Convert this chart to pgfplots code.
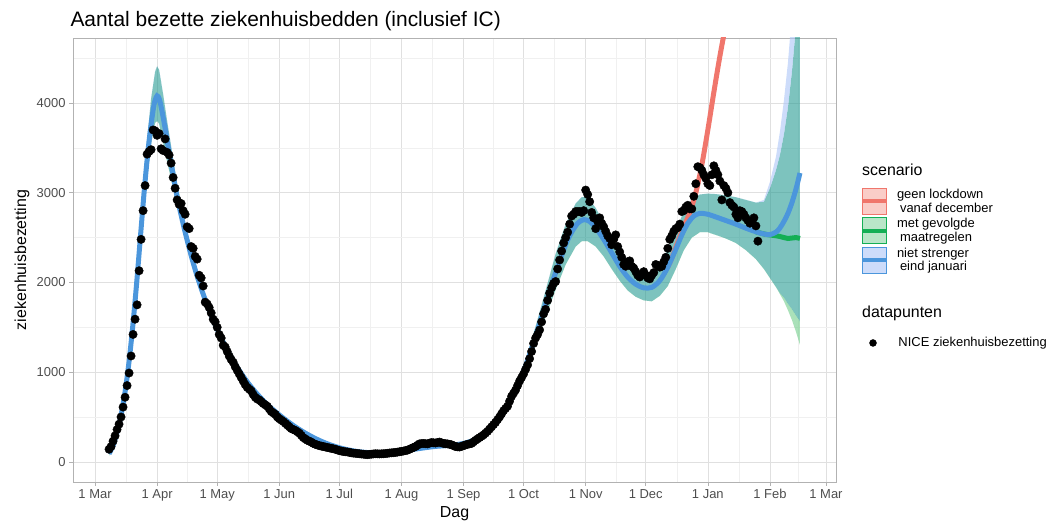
\documentclass[border=0pt]{standalone}
\usepackage{pgfplots}
\pgfplotsset{compat=1.18}
\usepackage{pgfplotstable}
\usepgfplotslibrary{fillbetween}
\usepackage{fontspec}
\setmainfont{Liberation Sans}

\definecolor{blueLine}{RGB}{75,150,220}
\definecolor{greenLine}{RGB}{20,175,85}
\definecolor{redLine}{RGB}{240,118,108}
\definecolor{blueOnly}{RGB}{172,197,247}
\definecolor{greenOnly}{RGB}{113,205,138}
\definecolor{tealBoth}{RGB}{38,155,147}
\definecolor{redKey}{RGB}{250,205,200}
\definecolor{greenKey}{RGB}{185,230,200}
\definecolor{blueKey}{RGB}{205,220,250}
\definecolor{tickgray}{RGB}{77,77,77}

% model line, scenario "niet strenger eind januari"
\pgfplotstableread{
x y
7 90
9 180
11 330
13 520
15 780
17 1120
19 1550
21 2050
23 2600
25 3130
27 3580
29 3920
30 4030
31 4080
32 4050
33 3960
35 3720
37 3450
39 3200
41 2950
43 2750
45 2560
48 2300
51 2070
54 1870
57 1690
60 1530
65 1290
70 1090
75 920
80 780
85 660
90 560
95 470
100 390
105 320
110 260
115 210
120 170
125 140
130 118
135 105
140 100
145 103
150 110
155 125
160 142
165 158
170 172
175 180
180 190
185 210
190 250
195 320
200 430
205 590
210 800
215 1070
220 1400
225 1760
230 2110
235 2420
238 2560
241 2660
244 2700
247 2680
250 2610
254 2480
258 2330
262 2180
266 2060
270 1980
274 1940
278 1945
282 2020
286 2170
290 2370
293 2530
296 2660
299 2740
302 2770
306 2760
310 2730
315 2690
320 2650
325 2605
330 2565
334 2540
337 2533
340 2560
342 2607
344 2680
346 2770
348 2890
350 3040
352 3220
}\blueline

\pgfplotstableread{
x y
330 2565
334 2540
337 2530
340 2520
342 2512
344 2500
346 2490
348 2495
350 2500
352 2490
}\greenline

\pgfplotstableread{
x y
286 2170
288 2270
291 2450
294 2620
297 2780
300 3000
303 3310
306 3700
309 4120
312 4520
315 4880
318 5250
}\redline

\pgfplotstableread{
x lo hi
7 70 110
10 230 300
13 480 570
16 880 1030
19 1450 1660
22 2200 2480
25 2950 3360
28 3550 4050
30 3780 4350
31 3800 4410
32 3770 4370
34 3560 4100
36 3350 3800
38 3150 3520
41 2850 3100
45 2480 2660
50 2060 2180
55 1760 1860
60 1480 1570
70 1050 1120
80 750 810
90 530 580
100 370 410
110 245 275
120 160 185
130 110 130
140 90 110
150 100 120
160 130 155
170 160 185
180 175 205
190 230 270
200 400 460
205 550 630
210 750 850
215 1000 1140
220 1300 1510
225 1620 1910
230 1920 2320
235 2200 2650
240 2400 2880
243 2460 2950
246 2460 2950
250 2400 2830
254 2290 2670
258 2150 2500
262 2020 2350
266 1910 2210
270 1840 2130
274 1800 2090
278 1790 2110
282 1850 2200
286 1960 2370
290 2150 2580
294 2360 2790
298 2500 2930
302 2560 2980
306 2560 2990
310 2530 2985
315 2490 2970
320 2440 2950
325 2360 2920
330 2260 2890
334 2150 2920
337 2050 3120
340 1950 3400
342 1880 3680
344 1830 4030
346 1760 4450
348 1700 5000
350 1630 5600
352 1564 6300
}\ribblue

\pgfplotstableread{
x lo hi
7 70 110
10 230 300
13 480 570
16 880 1030
19 1450 1660
22 2200 2480
25 2950 3360
28 3550 4050
30 3780 4350
31 3800 4410
32 3770 4370
34 3560 4100
36 3350 3800
38 3150 3520
41 2850 3100
45 2480 2660
50 2060 2180
55 1760 1860
60 1480 1570
70 1050 1120
80 750 810
90 530 580
100 370 410
110 245 275
120 160 185
130 110 130
140 90 110
150 100 120
160 130 155
170 160 185
180 175 205
190 230 270
200 400 460
205 550 630
210 750 850
215 1000 1140
220 1300 1510
225 1620 1910
230 1920 2320
235 2200 2650
240 2400 2880
243 2460 2950
246 2460 2950
250 2400 2830
254 2290 2670
258 2150 2500
262 2020 2350
266 1910 2210
270 1840 2130
274 1800 2090
278 1790 2110
282 1850 2200
286 1960 2370
290 2150 2580
294 2360 2790
298 2500 2930
302 2560 2980
306 2560 2990
310 2530 2985
315 2490 2970
320 2440 2950
325 2360 2920
330 2260 2890
334 2150 2900
337 2050 3050
340 1950 3250
342 1870 3420
344 1790 3650
346 1690 3950
348 1580 4350
350 1450 4850
352 1304 5400
}\ribgreen

% NICE observations
\pgfplotstableread{
x y
7 140
8 170
9 230
10 290
11 360
12 420
13 500
14 610
15 720
16 850
17 990
18 1180
19 1420
20 1590
21 1750
22 2130
23 2480
24 2800
25 3080
26 3430
27 3460
28 3480
29 3700
30 3690
31 3640
32 3660
33 3490
34 3470
35 3600
36 3450
37 3420
38 3330
39 3170
40 3050
41 2920
42 2870
43 2880
44 2800
45 2760
46 2620
47 2600
48 2400
49 2380
50 2290
51 2260
52 2080
53 2050
54 1960
55 1780
56 1760
57 1720
58 1660
59 1590
60 1560
61 1500
62 1420
63 1380
64 1300
65 1280
66 1230
67 1180
68 1140
69 1110
70 1060
71 1020
72 980
73 940
74 900
75 860
76 830
77 810
78 790
79 750
80 720
81 700
82 690
83 670
84 650
85 635
86 620
87 590
88 560
89 545
90 530
91 500
92 480
93 465
94 450
95 430
96 410
97 390
98 370
99 360
100 350
101 335
102 320
103 295
104 270
105 255
106 240
107 230
108 220
109 205
110 195
111 188
112 180
113 175
114 170
115 165
116 160
117 155
118 150
119 145
120 140
121 132
122 125
123 120
124 115
125 112
126 110
127 105
128 100
129 97
130 95
131 92
132 90
133 87
134 85
135 82
136 80
137 83
138 85
139 88
140 90
141 89
142 88
143 89
144 90
145 92
146 95
147 98
148 100
149 102
150 105
151 108
152 112
153 116
154 120
155 125
156 130
157 140
158 150
159 160
160 170
161 185
162 200
163 203
164 205
165 202
166 200
167 208
168 215
169 212
170 210
171 215
172 220
173 212
174 205
175 202
176 200
177 195
178 190
179 180
180 170
181 167
182 165
183 172
184 180
185 188
186 195
187 200
188 205
189 222
190 240
191 255
192 270
193 285
194 300
195 320
196 340
197 365
198 390
199 415
200 440
201 470
202 500
203 535
204 570
205 595
206 620
207 675
208 730
209 765
210 800
211 850
212 900
213 940
214 980
215 1030
216 1080
217 1150
218 1230
219 1320
220 1380
221 1420
222 1470
223 1560
224 1650
225 1700
226 1800
227 1880
228 1940
229 1990
230 2010
231 2150
232 2250
233 2350
234 2440
235 2500
236 2560
237 2650
238 2740
239 2760
240 2790
241 2790
242 2790
243 2780
244 2800
245 3030
246 2980
247 2900
248 2780
249 2720
250 2600
251 2680
252 2720
253 2660
254 2620
255 2570
256 2520
257 2490
258 2420
259 2480
260 2530
261 2400
262 2340
263 2280
264 2200
265 2180
266 2230
267 2240
268 2180
269 2160
270 2120
271 2080
272 2060
273 2090
274 2120
275 2080
276 2050
277 2040
278 2080
279 2110
280 2200
281 2190
282 2170
283 2180
284 2230
285 2280
286 2380
287 2480
288 2520
289 2570
290 2600
291 2610
292 2650
293 2790
294 2800
295 2840
296 2860
297 2820
298 2820
299 2960
300 3100
301 3290
302 3280
303 3250
304 3200
305 3160
306 3100
307 3080
308 3200
309 3300
310 3250
311 3200
312 3130
313 2920
314 3080
315 3050
316 3000
317 2890
318 2860
319 2840
320 2760
321 2720
322 2800
323 2790
324 2760
325 2720
326 2690
327 2660
328 2680
329 2720
330 2630
331 2460
}\nice

\begin{document}
\begin{tikzpicture}
\begin{axis}[
  at={(73bp,42bp)}, anchor=south west,
  scale only axis, width=763bp, height=444bp,
  xmin=-11, xmax=370, ymin=-225, ymax=4725,
  xtick={0,31,61,92,122,153,184,214,245,275,306,337,365},
  xticklabels={1 Mar,1 Apr,1 May,1 Jun,1 Jul,1 Aug,1 Sep,1 Oct,1 Nov,1 Dec,1 Jan,1 Feb,1 Mar},
  minor xtick={15.5,46,76.5,107,137.5,168.5,199,229.5,260,290.5,321.5,351},
  ytick={0,1000,2000,3000,4000},
  minor ytick={500,1500,2500,3500,4500},
  grid=both,
  major grid style={color=black!12, line width=0.6bp},
  minor grid style={color=black!6, line width=0.4bp},
  axis line style={color=black!30, line width=0.6bp},
  major tick style={color=black!30, line width=0.6bp},
  major tick length=4bp, minor tick length=0bp,
  tick align=outside, xtick pos=bottom, ytick pos=left,
  /pgf/number format/assume math mode=true,
  /pgf/number format/1000 sep={},
  scaled y ticks=false,
  xticklabel style={font=\fontsize{13}{15}\selectfont, text=tickgray},
  yticklabel style={font=\fontsize{13}{15}\selectfont, text=tickgray},
  xlabel={Dag}, ylabel={ziekenhuisbezetting},
  xlabel style={at={(axis description cs:0.5,0)}, anchor=center, yshift=-32bp, font=\fontsize{16}{19}\selectfont},
  ylabel style={at={(axis description cs:-0.0668,0.5)}, anchor=center, font=\fontsize{16}{19}\selectfont},
  legend style={at={(axis description cs:1.0315,0.6644)}, anchor=north west,
    draw=none, fill=none, inner sep=0pt, outer sep=0pt,
    font=\fontsize{13}{14}\selectfont, cells={align=left},
    column sep=7bp, row sep=0.5bp},
  legend cell align=left,
]
% ribbons: upper/lower bounds of both scenarios
\addplot[draw=none, name path=bhi, forget plot] table[x=x,y=hi]{\ribblue};
\addplot[draw=none, name path=blo, forget plot] table[x=x,y=lo]{\ribblue};
\addplot[draw=none, name path=ghi, forget plot] table[x=x,y=hi]{\ribgreen};
\addplot[draw=none, name path=glo, forget plot] table[x=x,y=lo]{\ribgreen};
% overlap of both ribbons
\addplot[fill=tealBoth, fill opacity=0.6, draw=none, forget plot] fill between[of=blo and ghi];
% blue ribbon only (above green upper bound)
\addplot[fill=blueOnly, fill opacity=0.6, draw=none, forget plot] fill between[of=ghi and bhi];
% green ribbon only (below blue lower bound)
\addplot[fill=greenOnly, fill opacity=0.6, draw=none, forget plot] fill between[of=glo and blo];
% lines
\addplot[redLine, line width=5bp, smooth, forget plot] table[x=x,y=y]{\redline};
\addplot[greenLine, line width=5bp, smooth, forget plot] table[x=x,y=y]{\greenline};
\addplot[blueLine, line width=5bp, smooth, forget plot] table[x=x,y=y]{\blueline};
% data
\addplot[only marks, mark=*, mark size=4.2bp, black, forget plot] table[x=x,y=y]{\nice};
% legend keys
\addlegendimage{legend image code/.code={
  \draw[redLine, fill=redKey, line width=0.8bp] (0bp,-13bp) rectangle (24bp,13bp);
  \draw[redLine, line width=4bp] (0bp,0bp) -- (24bp,0bp);}}
\addlegendentry{geen lockdown\\\hspace{3bp}vanaf december}
\addlegendimage{legend image code/.code={
  \draw[greenLine, fill=greenKey, line width=0.8bp] (0bp,-13bp) rectangle (24bp,13bp);
  \draw[greenLine, line width=4bp] (0bp,0bp) -- (24bp,0bp);}}
\addlegendentry{met gevolgde\\\hspace{3bp}maatregelen}
\addlegendimage{legend image code/.code={
  \draw[blueLine, fill=blueKey, line width=0.8bp] (0bp,-13bp) rectangle (24bp,13bp);
  \draw[blueLine, line width=4bp] (0bp,0bp) -- (24bp,0bp);}}
\addlegendentry{niet strenger\\\hspace{3bp}eind januari}
\end{axis}
\begin{axis}[
  at={(73bp,42bp)}, anchor=south west,
  scale only axis, width=763bp, height=444bp,
  xmin=0, xmax=1, ymin=0, ymax=1, hide axis,
  legend style={at={(axis description cs:1.0439,0.3131)}, anchor=west,
    draw=none, fill=none, inner sep=0pt, outer sep=0pt,
    font=\fontsize{13}{15}\selectfont, column sep=20bp},
  legend cell align=left,
]
\addplot[draw=none, forget plot] coordinates {(0,0) (1,1)};
\addlegendimage{only marks, mark=*, mark size=3.5bp, black}
\addlegendentry{NICE ziekenhuisbezetting}
\end{axis}
\node[anchor=base west, font=\fontsize{21}{25}\selectfont] at (67bp,497bp) {Aantal bezette ziekenhuisbedden (inclusief IC)};
\node[anchor=west, inner sep=0pt, font=\fontsize{16}{19}\selectfont] at (862bp,354bp) {scenario};
\node[anchor=west, inner sep=0pt, font=\fontsize{16}{19}\selectfont] at (862bp,211bp) {datapunten};
\pgfresetboundingbox
\path[use as bounding box] (0bp,0bp) rectangle (1055bp,524bp);
\end{tikzpicture}
\end{document}
